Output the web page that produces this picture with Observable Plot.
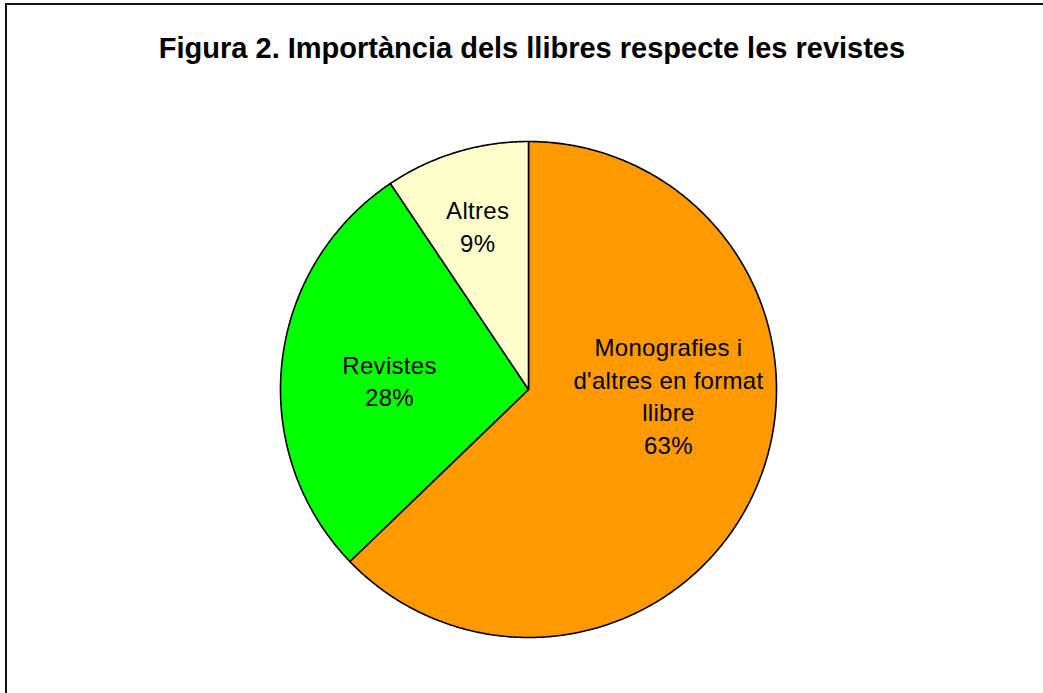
<!DOCTYPE html>
<html>
<head>
<meta charset="utf-8">
<script src="https://cdn.jsdelivr.net/npm/d3@7"></script>
<script src="https://cdn.jsdelivr.net/npm/@observablehq/plot@0.6"></script>
<style>
  html, body { margin: 0; padding: 0; background: #fff; }
  #wrap { position: relative; width: 1043px; height: 693px; overflow: hidden; background: #fff; }
  #frame { position: absolute; left: 5px; top: 3px; width: 1200px; height: 900px; border: 2px solid #111; box-sizing: border-box; pointer-events: none; }
  #title { position: relative; height: 70px; box-sizing: border-box; padding-top: 31px; margin-left: 6px; width: 1052px; text-align: center;
           font: bold 29px "Liberation Sans", Arial, sans-serif; line-height: 34px; color: #000; white-space: nowrap; }
  #chart svg { display: block; }
  #chart svg text { letter-spacing: 0.3px; }
</style>
</head>
<body>
<div id="wrap">
  <div id="title">Figura 2. Importància dels llibres respecte les revistes</div>
  <div id="chart"></div>
  <div id="frame"></div>
</div>
<script>
const categories = ["Monografies i d'altres en format llibre", "Revistes", "Altres"];
const values = [62.8, 27.8, 9.4];
const labels = ["Monografies i\nd'altres en format\nllibre\n63%", "Revistes\n28%", "Altres\n9%"];
const colors = ["#FF9900", "#00FF00", "#FFFFCC"];

const arcs = d3.pie().sort(null).value(d => d)(values);

// polygon outline of each slice, built from the pie angles
const pts = [];
arcs.forEach((a, i) => {
  const cat = categories[i];
  const n = Math.max(2, Math.ceil((a.endAngle - a.startAngle) / (2 * Math.PI) * 720));
  pts.push({cat, x: 0, y: 0});
  for (let k = 0; k <= n; k++) {
    const t = a.startAngle + (a.endAngle - a.startAngle) * k / n;
    pts.push({cat, x: Math.sin(t), y: Math.cos(t)});
  }
  pts.push({cat, x: 0, y: 0});
});

const labelData = arcs.map((a, i) => {
  const m = (a.startAngle + a.endAngle) / 2;
  return {cat: categories[i], label: labels[i], x: 0.6 * Math.sin(m), y: 0.6 * Math.cos(m)};
});
const nudges = [[3, -53], [9, 6], [-7.5, -22]];

const textMarks = labelData.map((d, i) => Plot.text([d], {
  x: "x", y: "y", text: "label",
  dx: nudges[i][0], dy: nudges[i][1],
  fontSize: 24, fontFamily: "Liberation Sans, Arial, sans-serif",
  fill: "#000", lineHeight: 1.36, textAnchor: "middle", lineAnchor: "middle"
}));

const chart = Plot.plot({
  width: 1043,
  height: 623,
  marginLeft: 280,
  marginRight: 267,
  marginTop: 71,
  marginBottom: 56,
  x: {domain: [-1, 1], axis: null},
  y: {domain: [-1, 1], axis: null},
  color: {domain: categories, range: colors},
  style: {background: "transparent", fontFamily: "Liberation Sans, Arial, sans-serif"},
  marks: [
    Plot.line(pts, {x: "x", y: "y", z: "cat", fill: "cat", stroke: "#000", strokeWidth: 1.6, strokeLinejoin: "round"}),
    ...textMarks
  ]
});
document.getElementById("chart").appendChild(chart);
</script>
</body>
</html>
